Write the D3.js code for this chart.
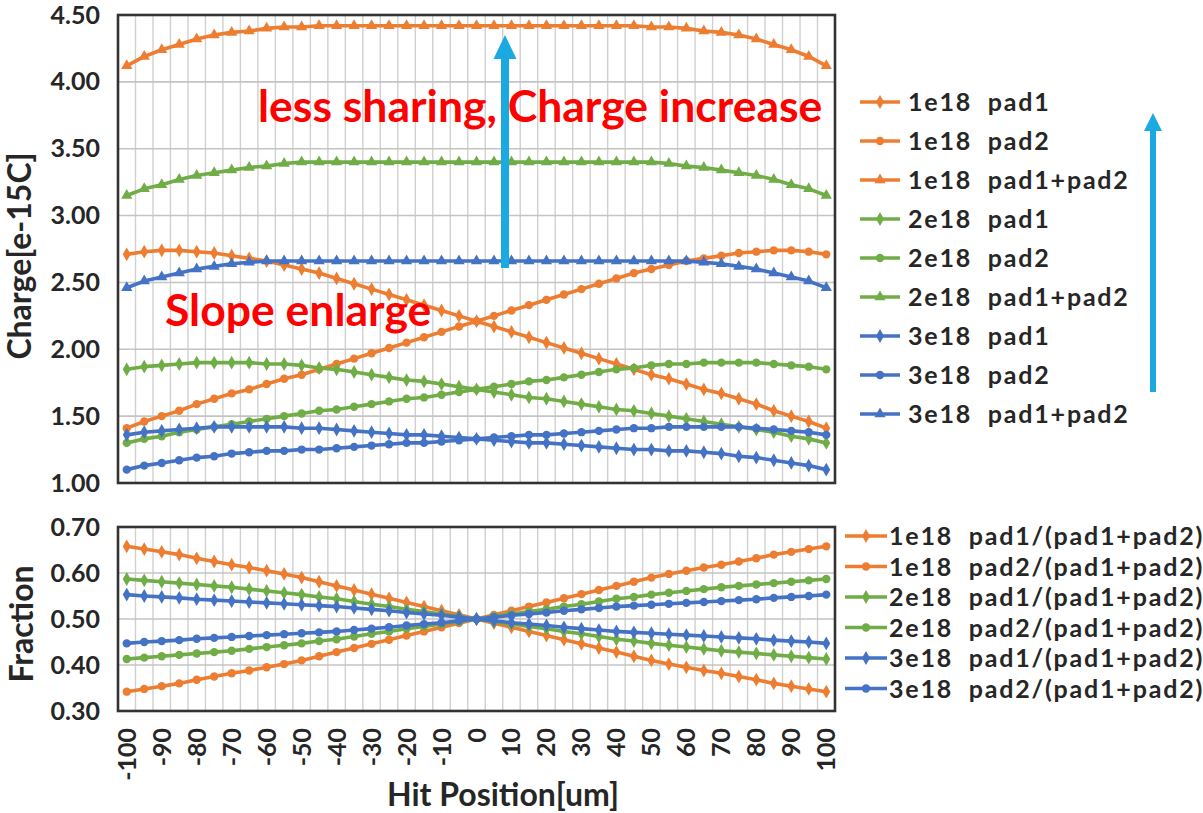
<!DOCTYPE html>
<html>
<head>
<meta charset="utf-8">
<script src="https://cdn.jsdelivr.net/npm/d3@7"></script>
<style>
  html, body { margin: 0; padding: 0; background: #ffffff; }
  svg { display: block; font-family: Lato, "Open Sans", "DejaVu Sans", sans-serif; }
</style>
</head>
<body>
<svg id="chart" width="1203" height="813"></svg>
<script>
// Hit position across the pad gap (um), one category every 5 um
const hitPosition = [-100,-95,-90,-85,-80,-75,-70,-65,-60,-55,-50,-45,-40,-35,-30,-25,-20,-15,-10,-5,0,
                     5,10,15,20,25,30,35,40,45,50,55,60,65,70,75,80,85,90,95,100];
const xTickLabels = [-100,-90,-80,-70,-60,-50,-40,-30,-20,-10,0,10,20,30,40,50,60,70,80,90,100];
const chargeTicks = [1.00,1.50,2.00,2.50,3.00,3.50,4.00,4.50];
const fractionTicks = [0.30,0.40,0.50,0.60,0.70];

// Collected charge [e-15 C] for each doping level
const charge1e18Pad1 = [2.71,2.73,2.74,2.74,2.73,2.72,2.70,2.68,2.66,2.63,2.60,2.57,2.53,2.49,2.45,2.41,2.37,2.33,2.29,2.25,2.21,
                        2.17,2.13,2.09,2.05,2.01,1.97,1.93,1.89,1.85,1.81,1.78,1.74,1.70,1.67,1.63,1.59,1.54,1.50,1.46,1.41];
const charge1e18Pad2 = [1.41,1.46,1.50,1.54,1.59,1.63,1.67,1.70,1.74,1.78,1.81,1.85,1.89,1.93,1.97,2.01,2.05,2.09,2.13,2.17,2.21,
                        2.25,2.29,2.33,2.37,2.41,2.45,2.49,2.53,2.57,2.60,2.63,2.66,2.68,2.70,2.72,2.73,2.74,2.74,2.73,2.71];
const charge1e18Sum  = [4.12,4.19,4.24,4.28,4.32,4.35,4.37,4.38,4.40,4.41,4.41,4.42,4.42,4.42,4.42,4.42,4.42,4.42,4.42,4.42,4.42,
                        4.42,4.42,4.42,4.42,4.42,4.42,4.42,4.42,4.42,4.41,4.41,4.40,4.38,4.37,4.35,4.32,4.28,4.24,4.19,4.12];

const charge2e18Pad1 = [1.85,1.87,1.88,1.89,1.90,1.90,1.90,1.90,1.89,1.89,1.88,1.86,1.85,1.83,1.81,1.79,1.77,1.76,1.74,1.72,1.70,
                        1.68,1.66,1.64,1.63,1.61,1.59,1.57,1.55,1.54,1.52,1.50,1.48,1.46,1.44,1.42,1.40,1.38,1.35,1.33,1.30];
const charge2e18Pad2 = [1.30,1.33,1.35,1.38,1.40,1.42,1.44,1.46,1.48,1.50,1.52,1.54,1.55,1.57,1.59,1.61,1.63,1.64,1.66,1.68,1.70,
                        1.72,1.74,1.76,1.77,1.79,1.81,1.83,1.85,1.86,1.88,1.89,1.89,1.90,1.90,1.90,1.90,1.89,1.88,1.87,1.85];
const charge2e18Sum  = [3.15,3.20,3.23,3.27,3.30,3.32,3.34,3.36,3.37,3.39,3.40,3.40,3.40,3.40,3.40,3.40,3.40,3.40,3.40,3.40,3.40,
                        3.40,3.40,3.40,3.40,3.40,3.40,3.40,3.40,3.40,3.40,3.39,3.37,3.36,3.34,3.32,3.30,3.27,3.23,3.20,3.15];

const charge3e18Pad1 = [1.36,1.38,1.39,1.40,1.41,1.42,1.42,1.42,1.42,1.42,1.41,1.41,1.40,1.39,1.38,1.37,1.36,1.36,1.35,1.34,1.33,
                        1.32,1.31,1.30,1.30,1.29,1.28,1.27,1.26,1.25,1.25,1.24,1.24,1.23,1.22,1.20,1.19,1.17,1.15,1.13,1.10];
const charge3e18Pad2 = [1.10,1.13,1.15,1.17,1.19,1.20,1.22,1.23,1.24,1.24,1.25,1.25,1.26,1.27,1.28,1.29,1.30,1.30,1.31,1.32,1.33,
                        1.34,1.35,1.36,1.36,1.37,1.38,1.39,1.40,1.41,1.41,1.42,1.42,1.42,1.42,1.42,1.41,1.40,1.39,1.38,1.36];
const charge3e18Sum  = [2.46,2.51,2.54,2.57,2.60,2.62,2.64,2.65,2.66,2.66,2.66,2.66,2.66,2.66,2.66,2.66,2.66,2.66,2.66,2.66,2.66,
                        2.66,2.66,2.66,2.66,2.66,2.66,2.66,2.66,2.66,2.66,2.66,2.66,2.65,2.64,2.62,2.60,2.57,2.54,2.51,2.46];

// Charge fraction seen by each pad
const frac1e18Pad1 = [0.658,0.652,0.646,0.640,0.632,0.625,0.618,0.612,0.605,0.598,0.590,0.581,0.572,0.563,0.554,0.545,0.536,0.527,0.518,0.509,0.500,
                      0.491,0.482,0.473,0.464,0.455,0.446,0.437,0.428,0.419,0.410,0.402,0.395,0.388,0.382,0.375,0.368,0.360,0.354,0.348,0.342];
const frac1e18Pad2 = [0.342,0.348,0.354,0.360,0.368,0.375,0.382,0.388,0.395,0.402,0.410,0.419,0.428,0.437,0.446,0.455,0.464,0.473,0.482,0.491,0.500,
                      0.509,0.518,0.527,0.536,0.545,0.554,0.563,0.572,0.581,0.590,0.598,0.605,0.612,0.618,0.625,0.632,0.640,0.646,0.652,0.658];
const frac2e18Pad1 = [0.587,0.584,0.581,0.578,0.575,0.572,0.569,0.565,0.561,0.557,0.553,0.548,0.544,0.538,0.532,0.527,0.521,0.516,0.511,0.506,0.500,
                      0.494,0.489,0.484,0.479,0.473,0.468,0.462,0.456,0.452,0.447,0.443,0.439,0.435,0.431,0.428,0.425,0.422,0.419,0.416,0.413];
const frac2e18Pad2 = [0.413,0.416,0.419,0.422,0.425,0.428,0.431,0.435,0.439,0.443,0.447,0.452,0.456,0.462,0.468,0.473,0.479,0.484,0.489,0.494,0.500,
                      0.506,0.511,0.516,0.521,0.527,0.532,0.538,0.544,0.548,0.553,0.557,0.561,0.565,0.569,0.572,0.575,0.578,0.581,0.584,0.587];
const frac3e18Pad1 = [0.553,0.550,0.548,0.546,0.543,0.541,0.539,0.537,0.535,0.533,0.531,0.529,0.527,0.524,0.521,0.518,0.514,0.511,0.508,0.504,0.500,
                      0.496,0.492,0.489,0.486,0.482,0.479,0.476,0.473,0.471,0.469,0.467,0.465,0.463,0.461,0.459,0.457,0.454,0.452,0.450,0.447];
const frac3e18Pad2 = [0.447,0.450,0.452,0.454,0.457,0.459,0.461,0.463,0.465,0.467,0.469,0.471,0.473,0.476,0.479,0.482,0.486,0.489,0.492,0.496,0.500,
                      0.504,0.508,0.511,0.514,0.518,0.521,0.524,0.527,0.529,0.531,0.533,0.535,0.537,0.539,0.541,0.543,0.546,0.548,0.550,0.553];

const ORANGE = "#ED7D31", GREEN = "#70AD47", BLUE = "#4472C4";

const chargeSeries = [
  { name: "1e18  pad1",      color: ORANGE, symbol: d3.symbolDiamond,  values: charge1e18Pad1 },
  { name: "1e18  pad2",      color: ORANGE, symbol: d3.symbolCircle,   values: charge1e18Pad2 },
  { name: "1e18  pad1+pad2", color: ORANGE, symbol: d3.symbolTriangle, values: charge1e18Sum },
  { name: "2e18  pad1",      color: GREEN,  symbol: d3.symbolDiamond,  values: charge2e18Pad1 },
  { name: "2e18  pad2",      color: GREEN,  symbol: d3.symbolCircle,   values: charge2e18Pad2 },
  { name: "2e18  pad1+pad2", color: GREEN,  symbol: d3.symbolTriangle, values: charge2e18Sum },
  { name: "3e18  pad1",      color: BLUE,   symbol: d3.symbolDiamond,  values: charge3e18Pad1 },
  { name: "3e18  pad2",      color: BLUE,   symbol: d3.symbolCircle,   values: charge3e18Pad2 },
  { name: "3e18  pad1+pad2", color: BLUE,   symbol: d3.symbolTriangle, values: charge3e18Sum }
];
const fractionSeries = [
  { name: "1e18  pad1/(pad1+pad2)", color: ORANGE, symbol: d3.symbolDiamond, values: frac1e18Pad1 },
  { name: "1e18  pad2/(pad1+pad2)", color: ORANGE, symbol: d3.symbolCircle,  values: frac1e18Pad2 },
  { name: "2e18  pad1/(pad1+pad2)", color: GREEN,  symbol: d3.symbolDiamond, values: frac2e18Pad1 },
  { name: "2e18  pad2/(pad1+pad2)", color: GREEN,  symbol: d3.symbolCircle,  values: frac2e18Pad2 },
  { name: "3e18  pad1/(pad1+pad2)", color: BLUE,   symbol: d3.symbolDiamond, values: frac3e18Pad1 },
  { name: "3e18  pad2/(pad1+pad2)", color: BLUE,   symbol: d3.symbolCircle,  values: frac3e18Pad2 }
];

const svg = d3.select("#chart");
const TEXT = "#262626";
const LINE_W = 3.6, MARK = 55;

const plotLeft = 118, plotRight = 835;
const topPanel = { top: 15, bottom: 483 };
const bottomPanel = { top: 527, bottom: 711 };

// Category axis: every hit position gets a band, points sit at band centres
const x = d3.scaleBand().domain(hitPosition).range([plotLeft, plotRight]).padding(0);
const cx = d => x(d) + x.bandwidth() / 2;

const yCharge = d3.scaleLinear().domain([1.0, 4.5]).range([topPanel.bottom, topPanel.top]);
const yFrac = d3.scaleLinear().domain([0.3, 0.7]).range([bottomPanel.bottom, bottomPanel.top]);

function drawPanel(panel, y, ticks, series) {
  const g = svg.append("g");
  g.append("rect")
    .attr("x", plotLeft).attr("y", panel.top)
    .attr("width", plotRight - plotLeft).attr("height", panel.bottom - panel.top)
    .attr("fill", "#ffffff");

  // vertical grid at category boundaries
  const bounds = hitPosition.map(d => x(d)).concat([plotRight]);
  g.append("g").selectAll("line").data(bounds).join("line")
    .attr("x1", d => d).attr("x2", d => d)
    .attr("y1", panel.top).attr("y2", panel.bottom)
    .attr("stroke", "#d0d0d0").attr("stroke-width", 1.4);

  // horizontal grid at value ticks
  g.append("g").selectAll("line").data(ticks).join("line")
    .attr("x1", plotLeft).attr("x2", plotRight)
    .attr("y1", d => y(d)).attr("y2", d => y(d))
    .attr("stroke", "#c4c4c4").attr("stroke-width", 1.6);

  const line = d3.line().x((d, i) => cx(hitPosition[i])).y(d => y(d));
  series.forEach(s => {
    const sg = g.append("g");
    sg.append("path").datum(s.values)
      .attr("d", line).attr("fill", "none")
      .attr("stroke", s.color).attr("stroke-width", LINE_W)
      .attr("stroke-linejoin", "round");
    sg.selectAll("path.mk").data(s.values).join("path")
      .attr("class", "mk")
      .attr("transform", (d, i) => `translate(${cx(hitPosition[i])},${y(d)})`)
      .attr("d", d3.symbol().type(s.symbol).size(MARK))
      .attr("fill", s.color);
  });

  g.append("rect")
    .attr("x", plotLeft).attr("y", panel.top)
    .attr("width", plotRight - plotLeft).attr("height", panel.bottom - panel.top)
    .attr("fill", "none").attr("stroke", "#333333").attr("stroke-width", 2.6);

  const ax = g.append("g")
    .attr("transform", `translate(${plotLeft},0)`)
    .call(d3.axisLeft(y).tickValues(ticks).tickFormat(d3.format(".2f")).tickSize(0).tickPadding(18));
  ax.select(".domain").remove();
  ax.selectAll("text")
    .attr("font-size", 25).attr("font-weight", 700)
    .attr("fill", TEXT).attr("font-family", "Lato, 'Open Sans', sans-serif");
  return g;
}

drawPanel(topPanel, yCharge, chargeTicks, chargeSeries);
drawPanel(bottomPanel, yFrac, fractionTicks, fractionSeries);

// Rotated hit-position labels under the fraction panel
const xAxis = svg.append("g")
  .attr("transform", `translate(0,${bottomPanel.bottom})`)
  .call(d3.axisBottom(x).tickValues(xTickLabels).tickSize(0));
xAxis.select(".domain").remove();
xAxis.selectAll("text")
  .attr("transform", "rotate(-90)")
  .attr("x", -17).attr("y", 0).attr("dy", "0.36em")
  .style("text-anchor", "end")
  .attr("font-size", 25).attr("font-weight", 700)
  .attr("fill", TEXT).attr("font-family", "Lato, 'Open Sans', sans-serif");

// Axis titles
svg.append("text")
  .attr("transform", "translate(31,256) rotate(-90)")
  .attr("text-anchor", "middle").attr("font-size", 32).attr("font-weight", 700)
  .attr("fill", TEXT).text("Charge[e-15C]");
svg.append("text")
  .attr("transform", "translate(33,624) rotate(-90)")
  .attr("text-anchor", "middle").attr("font-size", 32).attr("font-weight", 700)
  .attr("fill", TEXT).text("Fraction");
svg.append("text")
  .attr("x", 503).attr("y", 806)
  .attr("text-anchor", "middle").attr("font-size", 32).attr("font-weight", 700)
  .attr("fill", TEXT).text("Hit Position[um]");

// Legends
function drawLegend(series, x0, x1, textX, y0, step) {
  const lg = svg.append("g");
  series.forEach((s, i) => {
    const yy = y0 + i * step;
    lg.append("line").attr("x1", x0).attr("x2", x1).attr("y1", yy).attr("y2", yy)
      .attr("stroke", s.color).attr("stroke-width", LINE_W);
    lg.append("path").attr("transform", `translate(${(x0 + x1) / 2},${yy})`)
      .attr("d", d3.symbol().type(s.symbol).size(MARK)).attr("fill", s.color);
    lg.append("text").attr("x", textX).attr("y", yy).attr("dy", "0.36em")
      .attr("font-size", 25).attr("font-weight", 700).attr("fill", TEXT)
      .attr("letter-spacing", 1.8)
      .style("white-space", "pre").text(s.name);
  });
}
drawLegend(chargeSeries, 860, 900, 908, 102, 39);
drawLegend(fractionSeries, 845, 887, 889, 536, 30.5);

// Annotations
const ARROW = "#1BA9E1";
function arrow(xPos, yFrom, yTo, headLen, headW, width) {
  svg.append("line").attr("x1", xPos).attr("x2", xPos)
    .attr("y1", yFrom).attr("y2", yTo + headLen - 1)
    .attr("stroke", ARROW).attr("stroke-width", width);
  svg.append("path")
    .attr("d", `M${xPos},${yTo} L${xPos + headW / 2},${yTo + headLen} L${xPos - headW / 2},${yTo + headLen} Z`)
    .attr("fill", ARROW);
}

svg.append("text").attr("x", 258).attr("y", 122)
  .attr("font-size", 44.5).attr("font-weight", 700).attr("fill", "#FF0000")
  .text("less sharing, Charge increase");
svg.append("text").attr("x", 165).attr("y", 326)
  .attr("font-size", 44.5).attr("font-weight", 700).attr("fill", "#FF0000")
  .text("Slope enlarge");

arrow(505, 268, 35, 24, 23, 8);
arrow(1153, 392, 113, 18, 18, 6);
</script>
</body>
</html>
